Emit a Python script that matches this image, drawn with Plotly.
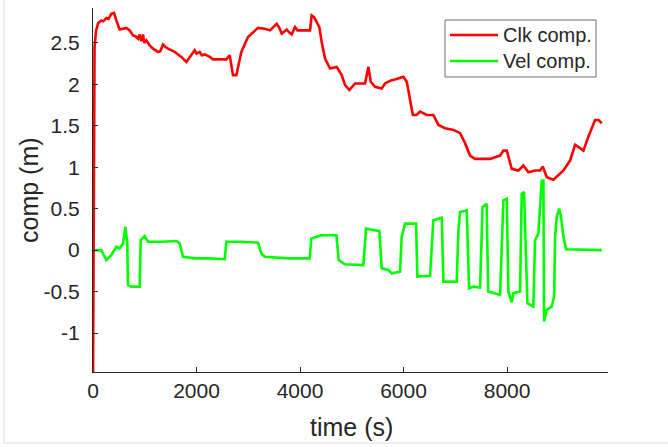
import plotly.graph_objects as go

# ---- data ----
clk_t = [0, 15, 30, 60, 100, 160, 200, 257, 300, 354, 406, 451, 515, 580, 644, 708, 773, 820, 870, 900,
         930, 966, 990, 1030, 1095, 1160, 1256, 1300, 1353, 1400, 1449, 1578, 1707, 1803, 1900, 1965, 2000,
         2062, 2100, 2158, 2255, 2319, 2450, 2577, 2641, 2705, 2770, 2866, 2995, 3124, 3188, 3317, 3420,
         3549, 3600, 3646, 3742, 3800, 3839, 3903, 3950, 4193, 4225, 4270, 4322, 4373, 4418, 4483, 4580,
         4709, 4805, 4870, 4953, 5063, 5256, 5321, 5366, 5449, 5578, 5643, 5700, 5772, 5850, 5997, 6062,
         6126, 6180, 6250, 6319, 6447, 6576, 6673, 6802, 6963, 7092, 7188, 7285, 7382, 7543, 7671, 7768,
         7865, 7929, 7994, 8090, 8219, 8316, 8412, 8541, 8638, 8690, 8767, 8896, 8993, 9089, 9217, 9314,
         9411, 9475, 9572, 9700, 9765, 9830]
clk_v = [-1.6, 0.5, 2.45, 2.65, 2.74, 2.77, 2.76, 2.80, 2.79, 2.85, 2.86, 2.77, 2.66, 2.67, 2.68, 2.65, 2.59,
         2.58, 2.55, 2.60, 2.52, 2.60, 2.50, 2.53, 2.47, 2.43, 2.39, 2.40, 2.48, 2.45, 2.43, 2.39, 2.33, 2.27,
         2.35, 2.41, 2.37, 2.39, 2.35, 2.36, 2.33, 2.30, 2.30, 2.30, 2.35, 2.11, 2.11, 2.39, 2.57, 2.65, 2.68,
         2.67, 2.65, 2.73, 2.68, 2.61, 2.66, 2.62, 2.60, 2.69, 2.65, 2.65, 2.83, 2.81, 2.75, 2.69, 2.51, 2.31,
         2.19, 2.21, 2.11, 1.99, 1.93, 2.01, 2.01, 2.21, 2.03, 1.97, 1.95, 2.01, 2.03, 2.05, 2.06, 2.09, 2.03,
         1.79, 1.63, 1.63, 1.67, 1.63, 1.63, 1.51, 1.47, 1.45, 1.41, 1.29, 1.14, 1.10, 1.10, 1.10, 1.12, 1.14,
         1.20, 1.20, 0.98, 0.96, 1.02, 0.94, 0.96, 0.96, 1.01, 0.88, 0.85, 0.90, 0.96, 1.08, 1.27, 1.23, 1.20,
         1.37, 1.57, 1.57, 1.53]

vel_t = [0, 160, 257, 354, 451, 515, 580, 625, 663, 676, 741, 902, 921, 998, 1063, 1320, 1610, 1675, 1739,
         1965, 2222, 2545, 2577, 2866, 3188, 3253, 3317, 3768, 4186, 4218, 4412, 4702, 4748, 4864, 5224, 5275,
         5353, 5533, 5578, 5707, 5771, 5932, 5964, 6029, 6242, 6267, 6512, 6576, 6738, 6770, 7027, 7059, 7092,
         7221, 7266, 7349, 7478, 7527, 7604, 7636, 7865, 7929, 7994, 8026, 8090, 8122, 8251, 8283, 8328, 8393,
         8508, 8541, 8605, 8670, 8702, 8715, 8767, 8864, 8908, 8928, 8960, 9005, 9043, 9089, 9140, 9830]
vel_v = [0.0, 0.0, -0.12, -0.06, 0.04, 0.02, 0.08, 0.28, 0.08, -0.42, -0.44, -0.44, 0.12, 0.17, 0.10, 0.10,
         0.11, 0.08, -0.08, -0.10, -0.10, -0.11, 0.10, 0.10, 0.09, -0.04, -0.08, -0.10, -0.10, 0.14, 0.18, 0.18,
         -0.12, -0.17, -0.18, 0.26, 0.25, 0.23, -0.22, -0.24, -0.28, -0.26, 0.16, 0.32, 0.32, -0.32, -0.31, 0.36,
         0.39, -0.38, -0.38, 0.22, 0.46, 0.48, -0.46, -0.44, -0.45, 0.52, 0.56, -0.50, -0.54, 0.60, 0.62, -0.50,
         -0.63, -0.52, -0.50, 0.68, 0.70, -0.64, -0.68, 0.12, 0.20, 0.84, 0.84, -0.86, -0.72, -0.68, -0.56,
         0.16, 0.40, 0.50, 0.40, 0.16, 0.01, 0.0]

x_ticks = [0, 2000, 4000, 6000, 8000]
y_ticks = [-1, -0.5, 0, 0.5, 1, 1.5, 2, 2.5]
y_tick_text = ["-1", "-0.5", "0", "0.5", "1", "1.5", "2", "2.5"]
series_names = ["Clk comp.", "Vel comp."]
x_title = "time (s)"
y_title = "comp (m)"

FONT = "Liberation Sans, Arial, sans-serif"
AX = "#262626"
RED = "#ff0000"
GREEN = "#00ff00"

fig = go.Figure()
fig.add_trace(go.Scatter(x=vel_t, y=vel_v, mode="lines", name=series_names[1],
                         line=dict(color=GREEN, width=2.6), showlegend=False))
fig.add_trace(go.Scatter(x=clk_t, y=clk_v, mode="lines", name=series_names[0],
                         line=dict(color=RED, width=2.6), showlegend=False))

fig.update_layout(
    width=668, height=447,
    margin=dict(l=93, r=60, t=8, b=75),
    paper_bgcolor="white", plot_bgcolor="white",
    font=dict(family=FONT, color=AX, size=21),
    xaxis=dict(range=[0, 9950], tickvals=x_ticks, showgrid=False, zeroline=False,
               showline=True, linecolor=AX, linewidth=1, ticks="inside", ticklen=5,
               tickcolor=AX, tickfont=dict(size=21, color=AX)),
    yaxis=dict(range=[-1.47, 2.92], tickvals=y_ticks, ticktext=y_tick_text, showgrid=False,
               zeroline=False, showline=True, linecolor=AX, linewidth=1, ticks="inside",
               ticklen=5, tickcolor=AX, tickfont=dict(size=21, color=AX), ticklabelstandoff=8),
)

W, H = 515.0, 364.0
def px(x):
    return (x - 93) / W
def py(y):
    return (372 - y) / H

# axis titles
fig.add_annotation(xref="paper", yref="paper", x=px(351), y=py(427), text=x_title, showarrow=False,
                   xanchor="center", yanchor="middle", font=dict(size=25, color=AX, family=FONT))
fig.add_annotation(xref="paper", yref="paper", x=px(29), y=py(190), text=y_title, showarrow=False,
                   textangle=-90, xanchor="center", yanchor="middle",
                   font=dict(size=25, color=AX, family=FONT))

# manual MATLAB-like legend
fig.add_shape(type="rect", xref="paper", yref="paper", x0=px(445), x1=px(596), y0=py(77), y1=py(20),
              line=dict(color="#6e6e6e", width=1), fillcolor="white", layer="above")
for name, col, yy in [(series_names[0], RED, 35), (series_names[1], GREEN, 61)]:
    fig.add_shape(type="line", xref="paper", yref="paper", x0=px(450), x1=px(498), y0=py(yy), y1=py(yy),
                  line=dict(color=col, width=2.6), layer="above")
    fig.add_annotation(xref="paper", yref="paper", x=px(501), y=py(yy), text=name, showarrow=False,
                       xanchor="left", yanchor="middle", font=dict(size=20, color=AX, family=FONT))

# light frame of the figure window (left and bottom)
fig.add_shape(type="line", xref="paper", yref="paper", x0=px(4), x1=px(4), y0=py(443), y1=py(-5),
              line=dict(color="#dcdcdc", width=1))
fig.add_shape(type="line", xref="paper", yref="paper", x0=px(4), x1=px(700), y0=py(443), y1=py(443),
              line=dict(color="#dcdcdc", width=1))

fig.write_html("out.html")
